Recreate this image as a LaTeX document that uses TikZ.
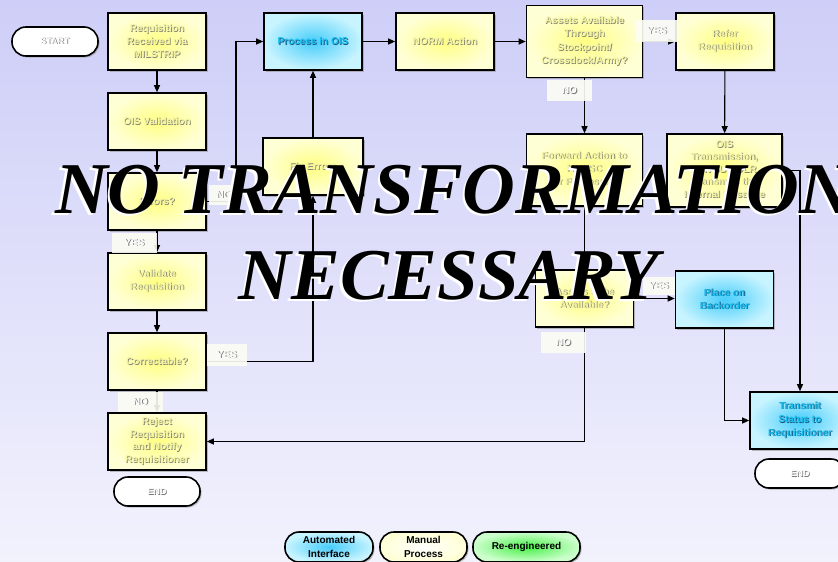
\documentclass[tikz,border=0pt]{standalone}
\usepackage{fontspec}
\setmainfont{Liberation Sans}
\newfontfamily\wmfont{Liberation Serif}
\usetikzlibrary{arrows.meta,shadows}
\definecolor{bgtop}{RGB}{206,206,248}
\definecolor{bgbot}{RGB}{242,242,253}
\definecolor{yout}{RGB}{255,255,214}
\definecolor{yin}{RGB}{255,255,130}
\definecolor{ytext}{RGB}{245,245,165}
\definecolor{yshad}{RGB}{135,135,115}
\definecolor{bout}{RGB}{200,244,255}
\definecolor{bin}{RGB}{70,205,250}
\definecolor{btext}{RGB}{20,190,240}
\definecolor{bshad}{RGB}{30,90,130}
\definecolor{gout}{RGB}{205,255,205}
\definecolor{gin}{RGB}{70,240,70}
\definecolor{wtext}{RGB}{252,252,252}
\definecolor{wshad}{RGB}{120,120,120}
\definecolor{lblfill}{RGB}{253,253,244}
\newcommand\yl[1]{\leavevmode\rlap{\kern0.8pt\raisebox{-0.8pt}{\textcolor{yshad}{#1}}}\textcolor{ytext}{#1}}
\newcommand\bl[1]{\leavevmode\rlap{\kern0.8pt\raisebox{-0.8pt}{\textcolor{bshad}{#1}}}\textcolor{btext}{#1}}
\newcommand\wl[1]{\leavevmode\rlap{\kern0.8pt\raisebox{-0.8pt}{\textcolor{wshad}{#1}}}\textcolor{wtext}{#1}}
\tikzset{
  boxbase/.style={draw=black, line width=1.6pt, align=center, inner sep=2pt,
    font=\bfseries\fontsize{10}{13}\selectfont,
    drop shadow={shadow xshift=1.5pt, shadow yshift=-1.5pt, fill=black!45, opacity=.55}},
  ybox/.style={boxbase, inner color=yin, outer color=yout, minimum width=98pt, minimum height=57pt},
  bbox/.style={boxbase, inner color=bin, outer color=bout, minimum width=98pt, minimum height=57pt},
  pill/.style={draw=black, line width=1.6pt, fill=white, rounded corners=14pt,
    minimum width=86pt, minimum height=29pt, font=\bfseries\fontsize{9}{11}\selectfont,
    drop shadow={shadow xshift=1.5pt, shadow yshift=-1.5pt, fill=black!45, opacity=.55}},
  legpill/.style={draw=black, line width=1.6pt, rounded corners=14pt, align=center,
    minimum height=30pt, font=\bfseries\fontsize{10}{14}\selectfont,
    drop shadow={shadow xshift=1.5pt, shadow yshift=-1.5pt, fill=black!45, opacity=.55}},
  lbl/.style={fill=lblfill, fill opacity=.9, text opacity=1, inner sep=0pt,
    minimum height=20pt, font=\bfseries\fontsize{10}{12}\selectfont},
  arr/.style={line width=1.1pt, -{Triangle[length=7pt,width=6pt]}},
  wm/.style={font=\wmfont\bfseries\itshape\fontsize{73}{80}\selectfont, inner sep=0pt}
}
\begin{document}
\begin{tikzpicture}[x=1pt,y=-1pt]
\useasboundingbox (0,0) rectangle (838,562);
\clip (0,0) rectangle (838,562);
\shade[top color=bgtop, bottom color=bgbot] (0,0) rectangle (838,562);

% left column
\node[pill] (start) at (55,41.5) {\wl{START}};
\node[ybox] (req) at (157,41.5) {\yl{Requisition}\\\yl{Received via}\\\yl{MILSTRIP}};
\node[ybox] (oisval) at (157,121.5) {\yl{OIS Validation}};
\node[ybox] (err) at (157,201.5) {\yl{Errors?}};
\node[ybox] (valid) at (157,281.5) {\yl{Validate}\\\yl{Requisition}};
\node[ybox] (corr) at (157,361.5) {\yl{Correctable?}};
\node[ybox, font=\bfseries\fontsize{10}{12.5}\selectfont] (reject) at (157,441.5) {\yl{Reject}\\\yl{Requisition}\\\yl{and Notify}\\\yl{Requisitioner}};
\node[pill] (endl) at (157,491.5) {\wl{END}};

% middle
\node[bbox] (pois) at (313,41.5) {\bl{Process in OIS}};
\node[ybox, minimum width=100pt] (fix) at (313,166.5) {\yl{Fix Errors}};
\node[ybox] (norm) at (445,41.5) {\yl{NORM Action}};
\node[ybox, minimum width=116pt, minimum height=72pt, font=\bfseries\fontsize{10}{13.5}\selectfont] (assets) at (584.5,41.5) {\yl{Assets Available}\\\yl{Through}\\\yl{Stockpoint/}\\\yl{Crossdock/Army?}};
\node[ybox, minimum width=116pt, minimum height=72pt] (fwd) at (584.5,170) {\yl{Forward Action to}\\\yl{NMLSC}\\\yl{for Processing}};
\node[ybox] (willa) at (584.5,298.5) {\yl{Assets to be}\\\yl{Available?}};

% right
\node[ybox] (refer) at (725,41.5) {\yl{Refer}\\\yl{Requisition}};
\node[ybox, minimum width=115pt, minimum height=73pt, font=\bfseries\fontsize{10}{12.5}\selectfont] (oistx) at (724.5,170.5) {\yl{OIS}\\\yl{Transmission,}\\\yl{NAVSUP DLR}\\\yl{Transmits the}\\\yl{Internal Message}};
\node[bbox] (bo) at (724.5,299.5) {\bl{Place on}\\\bl{Backorder}};
\node[bbox, minimum width=100pt, font=\bfseries\fontsize{10}{13.5}\selectfont] (tx) at (800,420.5) {\bl{Transmit}\\\bl{Status to}\\\bl{Requisitioner}};
\node[pill, minimum width=90pt] (endr) at (800,473.5) {\wl{END}};

% connectors
\draw[arr] (req) -- (oisval);
\draw[arr] (oisval) -- (err);
\draw[arr] (err) -- (valid);
\draw[arr] (valid) -- (corr);
\draw[arr] (corr) -- (reject);
\coordinate (noxcol) at (236,0);
\draw[arr] (err.east) -| (noxcol |- pois.west) -- (pois.west);
\draw[arr] (corr.east) -| (fix.south);
\draw[arr] (fix) -- (pois);
\draw[arr] (pois) -- (norm);
\draw[arr] (norm) -- (assets);
\draw[arr] (assets) -- (refer);
\draw[arr] (assets) -- (fwd);
\draw[arr] (refer) -- (oistx);
\draw[arr] (oistx.east) -| (tx.north);
\draw[arr] (fwd) -- (willa);
\draw[arr] (willa.east) -- (bo.west |- willa.east);
\draw[arr] (willa.south) |- (reject.east);
\draw[arr] (bo.south) |- (tx.west);

% labels
\node[lbl, minimum width=45pt] (lyes1) at (134.5,243) {\wl{YES}};
\node[lbl, minimum width=30pt] (lno1) at (224,195) {\wl{NO}};
\node[lbl, minimum width=40pt, minimum height=22pt] (lyes2) at (227,355) {\wl{YES}};
\node[lbl, minimum width=45pt] (lno2) at (140.5,402) {\wl{NO}};
\node[lbl, minimum width=42pt, minimum height=22pt] (lyes3) at (657,31) {\wl{YES}};
\node[lbl, minimum width=45pt, minimum height=21pt] (lno3) at (569.5,90.5) {\wl{NO}};
\node[lbl, minimum width=32pt, minimum height=18pt] (lyes4) at (659,286) {\wl{YES}};
\node[lbl, minimum width=45pt, minimum height=21pt] (lno4) at (563.5,342.5) {\wl{NO}};

% legend
\node[legpill, inner color=bin, outer color=bout, minimum width=88pt] (legauto) at (329,547) {Automated\\Interface};
\node[legpill, inner color=white, outer color=yout, minimum width=87pt] (legman) at (423.5,547) {Manual\\Process};
\node[legpill, inner color=gin, outer color=gout, minimum width=107pt] (legre) at (526.5,547) {Re-engineered};

% watermark
\node[wm, anchor=base west, text=white] (wm1s) at (52.5,215.5) {NO TRANSFORMATION};
\node[wm, anchor=base west, text=black] (wm1) at (55,213) {NO TRANSFORMATION};
\node[wm, anchor=base, text=white] (wm2s) at (446.5,301.5) {NECESSARY};
\node[wm, anchor=base, text=black] (wm2) at (449,299) {NECESSARY};
\end{tikzpicture}
\end{document}
